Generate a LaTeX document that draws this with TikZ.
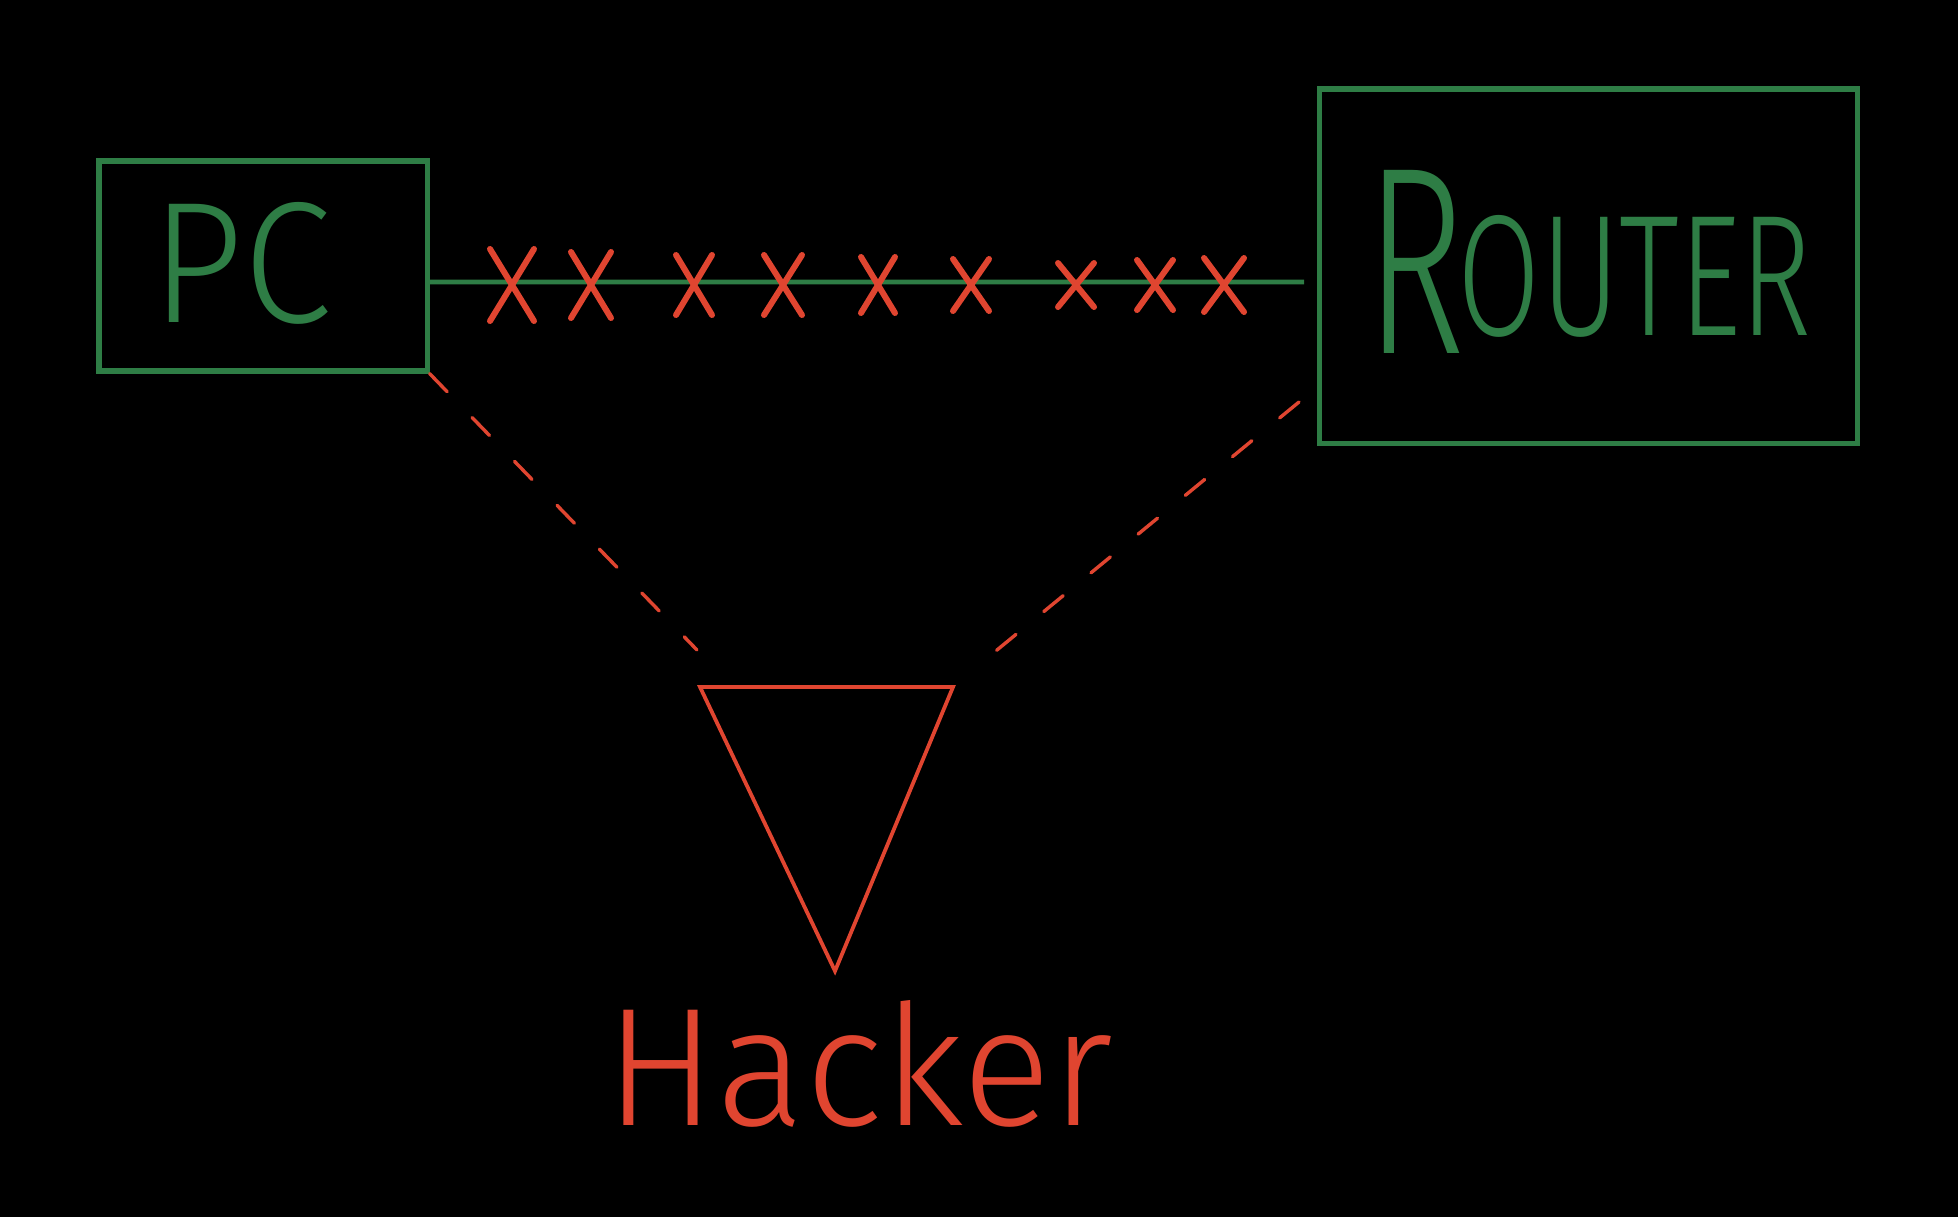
\documentclass[tikz,border=0pt]{standalone}
\usepackage{xcolor}
\usepackage{graphicx}
\usepackage{fontspec}
\newfontfamily\handfont{Fira Sans Light}
\usetikzlibrary{positioning}
\definecolor{boxgreen}{rgb}{0.18, 0.49, 0.27}
\definecolor{tapred}{rgb}{0.88, 0.27, 0.19}
\tikzset{%
  devbox/.style={rectangle,draw=boxgreen,line width=0.052cm,inner sep=0pt}
}
\tikzset{%
  link/.style={draw=boxgreen,line width=0.048cm},
  cut/.style={draw=tapred,line width=0.06cm,line cap=round},
  tap/.style={draw=tapred,line width=0.034cm,line cap=round,dash pattern=on 0.25cm off 0.36cm},
  hand/.style={inner sep=0pt,font=\handfont}
}
\newcommand\devtext{boxgreen}
\newcommand\hacktext{tapred}

\begin{document}
\begin{tikzpicture}[x=0.01cm,y=-0.01cm]
            \fill[black] (0,0) rectangle (1958,1217);
            \useasboundingbox (0,0) rectangle (1958,1217);

            \node[devbox,minimum width=3.28cm,minimum height=2.1cm](pc) at (263,266){};
            \node[hand,text=\devtext,anchor=base](pclabel) at (242,322){\resizebox{1.8cm}{1.2cm}{PC}};

            \node[devbox,minimum width=5.37cm,minimum height=3.54cm](router) at (1588.5,266){};
            \node[hand,text=\devtext,anchor=base west](routerlabel) at (1365,353)
                {\resizebox{1.0cm}{1.83cm}{R}\kern-0.08cm\raisebox{0.18cm}{\resizebox{3.54cm}{1.2cm}{OUTER}}};

            \coordinate (linkend) at (1304,282);
            \draw[link] ([yshift=-0.16cm]pc.east) -- (linkend);
            \foreach \cx/\w/\h in {512/22/36, 591/20/33, 694/18/30, 783/19/30, 878/17/28,
                                   971/18/26, 1076/18/22, 1155/18/25, 1224/20/27}
                \draw[cut] (\cx-\w,285-\h) -- (\cx+\w,285+\h) (\cx+\w,285-\h) -- (\cx-\w,285+\h);

            \coordinate (trileft) at (700,687);
            \coordinate (triright) at (953,687);
            \coordinate (tritip) at (835,971);
            \draw[tapred,line width=0.038cm] (trileft) -- (triright) -- (tritip) -- cycle;

            \coordinate (tapleft) at (697,650);
            \coordinate (taprstart) at (1299,402);
            \coordinate (tapright) at (986,659);
            \draw[tap] (pc.south east) -- (tapleft);
            \draw[tap] (taprstart) -- (tapright);

            \node[hand,text=\hacktext,anchor=base west](hackerlabel) at (605,1125){\resizebox{5.07cm}{1.25cm}{Hacker}};
        \end{tikzpicture}
\end{document}
